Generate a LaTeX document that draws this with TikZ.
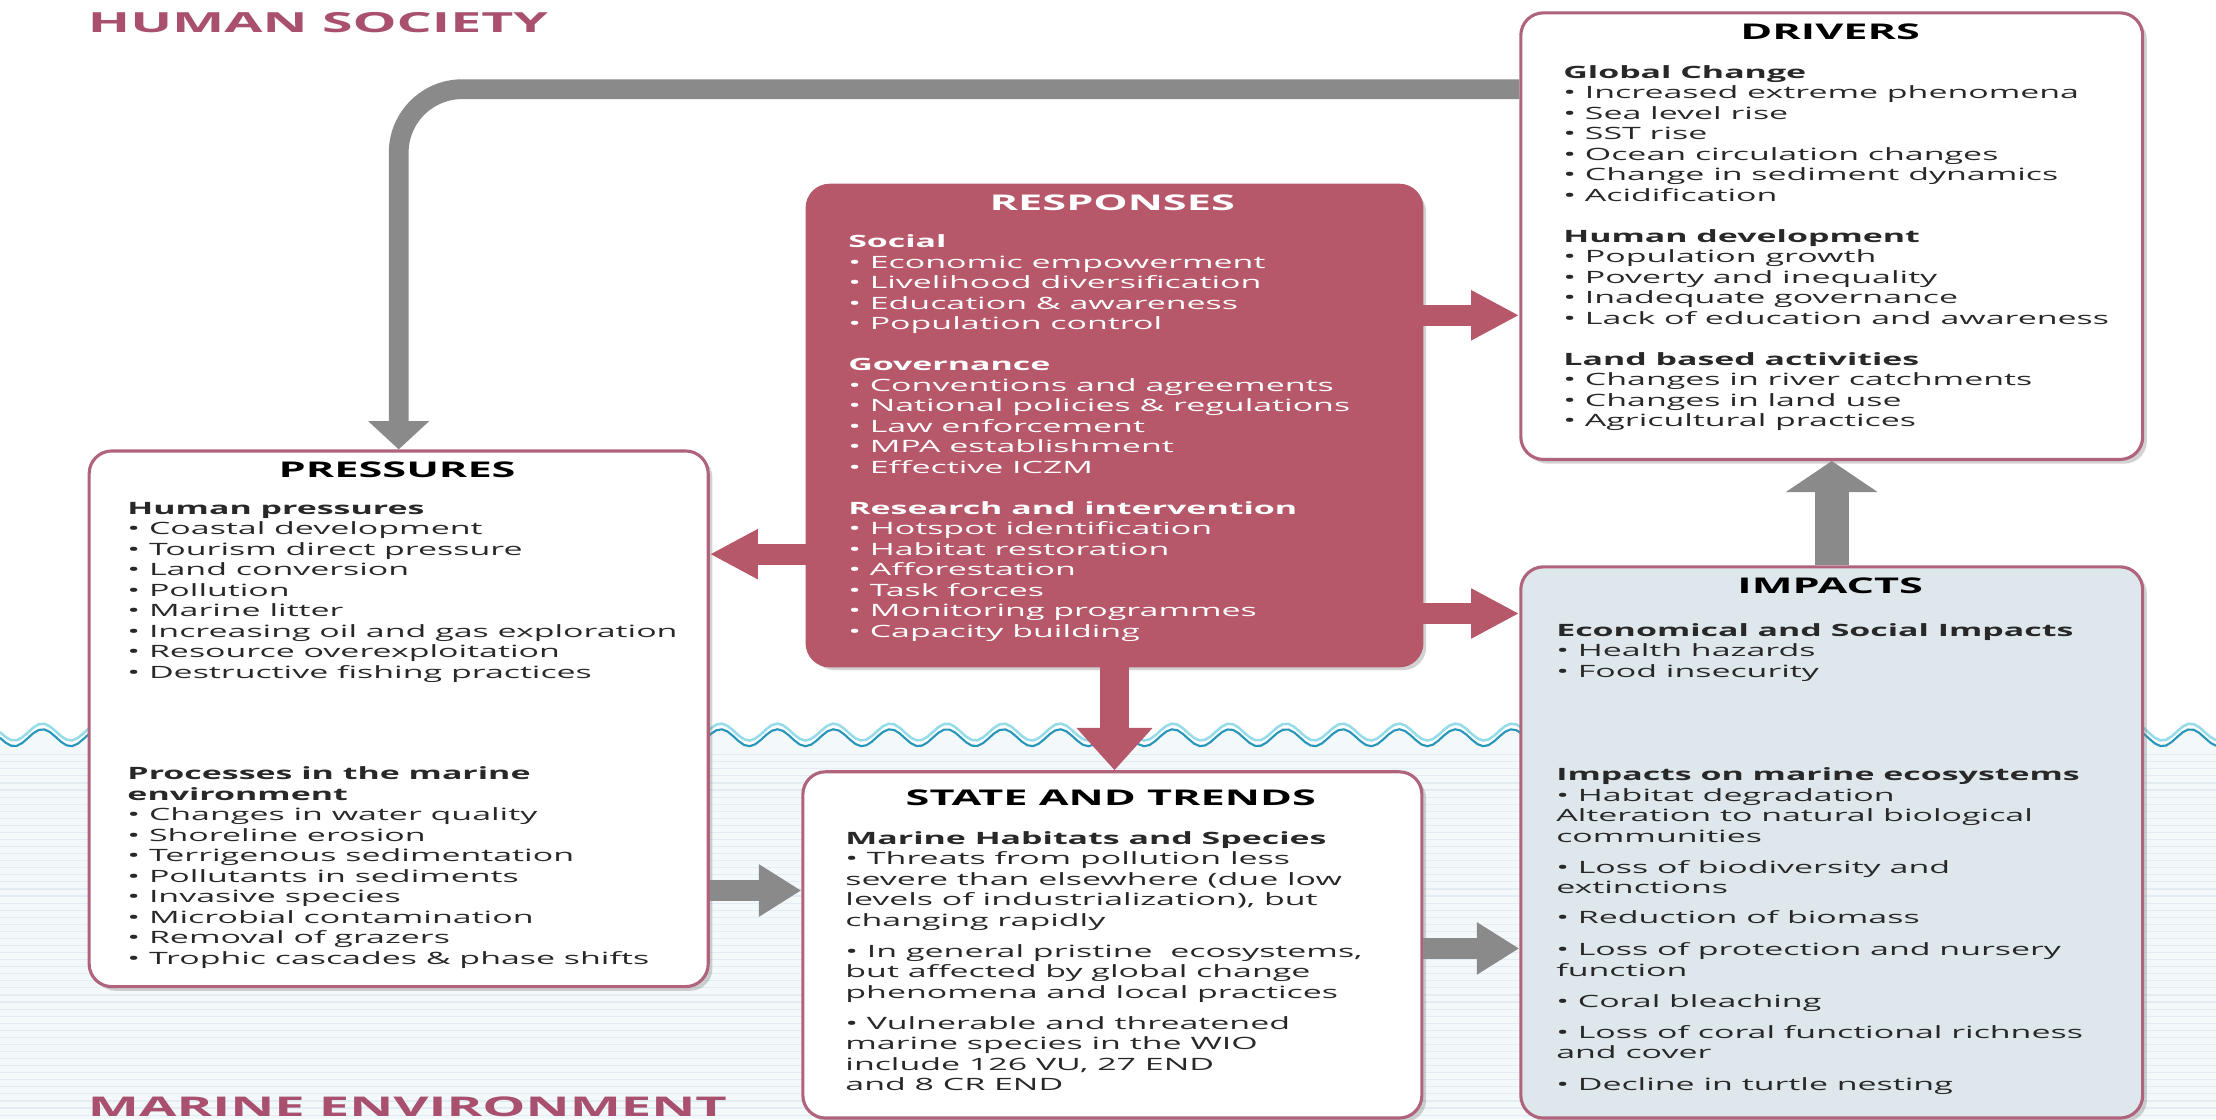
\documentclass[tikz,border=0pt]{standalone}
\usepackage{fontspec}
\setmainfont{Open Sans}[FakeStretch=2.0]
\usetikzlibrary{arrows.meta,shadows}
\definecolor{maroonf}{RGB}{182,88,106}
\definecolor{bordm}{RGB}{176,100,124}
\definecolor{labm}{RGB}{168,80,110}
\definecolor{grayarr}{RGB}{138,138,138}
\definecolor{impfill}{RGB}{222,231,236}
\definecolor{txt}{RGB}{40,40,40}
\definecolor{seabg}{RGB}{243,248,250}
\definecolor{seastripe}{RGB}{226,236,242}
\definecolor{wavea}{RGB}{150,220,232}
\definecolor{waveb}{RGB}{40,150,185}
\newcommand\sechd[1]{\textbf{#1}}
\begin{document}
\begin{tikzpicture}[x=1pt,y=-1pt,
  panel/.style={draw=bordm, line width=2.2pt, rounded corners=16pt, anchor=north west, inner sep=0pt,
    drop shadow={shadow xshift=3pt, shadow yshift=-3pt, opacity=0.35}},
  whitepanel/.style={panel, fill=white},
  bodytxt/.style={anchor=north west, inner sep=0pt, align=left, text=txt,
    font=\fontsize{12}{14.5}\selectfont},
  ttl/.style={anchor=base, inner sep=0pt, text=black, font=\fontsize{15.3}{18}\selectfont\bfseries},
  biglab/.style={anchor=base west, inner sep=0pt, text=labm, font=\fontsize{19.6}{24}\selectfont\bfseries},
  marr/.style={draw=maroonf, line width=15pt, -{Triangle[length=34pt, width=33pt]}},
  garr/.style={draw=grayarr, line width=15pt, -{Triangle[length=30pt, width=35pt]}},
]
\useasboundingbox (0,0) rectangle (1568,792);
\fill[white] (0,0) rectangle (1568,792);
% sea background
\fill[seabg] plot[domain=0:1568, samples=400] (\x,{522+6*sin(9*\x)}) -- (1568,792) -- (0,792) -- cycle;
\foreach \yy in {534,539,...,792} \draw[seastripe, line width=0.8pt] (0,\yy) -- (1568,\yy);
\draw[wavea, line width=1.8pt] plot[domain=0:1568, samples=400] (\x,{518+6*sin(9*\x)});
\draw[waveb, line width=1.5pt] plot[domain=0:1568, samples=400] (\x,{522+6*sin(9*\x)});

% labels
\node[biglab] (hs) at (62,23) {HUMAN SOCIETY};
\node[biglab, font=\fontsize{19.2}{24}\selectfont\bfseries] (me) at (62,790) {MARINE ENVIRONMENT};

% boxes
\node[whitepanel, minimum width=440pt, minimum height=316pt] (drv) at (1075,8) {};
\node[panel, fill=maroonf, draw=maroonf, minimum width=435pt, minimum height=340pt] (resp) at (570,130) {};
\node[whitepanel, minimum width=438pt, minimum height=379pt] (pres) at (62,318) {};
\node[whitepanel, minimum width=438pt, minimum height=245pt] (state) at (567,545) {};
\node[panel, fill=impfill, minimum width=440pt, minimum height=390pt] (imp) at (1075,400) {};

% titles
\node[ttl] (drvttl) at (1295,28) {DRIVERS};
\node[ttl, text=white] (respttl) at (787,149) {RESPONSES};
\node[ttl] (presttl) at (281,338) {PRESSURES};
\node[ttl] (statettl) at (786,570) {STATE AND TRENDS};
\node[ttl] (impttl) at (1295,420) {IMPACTS};

% contents
\node[bodytxt] (drvtxt) at (1106,46) {%
\sechd{Global Change}\\
• Increased extreme phenomena\\
• Sea level rise\\
• SST rise\\
• Ocean circulation changes\\
• Change in sediment dynamics\\
• Acidification\\[14.5pt]
\sechd{Human development}\\
• Population growth\\
• Poverty and inequality\\
• Inadequate governance\\
• Lack of education and awareness\\[14.5pt]
\sechd{Land based activities}\\
• Changes in river catchments\\
• Changes in land use\\
• Agricultural practices};

\node[bodytxt, text=white] (resptxt) at (600,166) {%
\sechd{Social}\\
• Economic empowerment\\
• Livelihood diversification\\
• Education \& awareness\\
• Population control\\[14.5pt]
\sechd{Governance}\\
• Conventions and agreements\\
• National policies \& regulations\\
• Law enforcement\\
• MPA establishment\\
• Effective ICZM\\[14.5pt]
\sechd{Research and intervention}\\
• Hotspot identification\\
• Habitat restoration\\
• Afforestation\\
• Task forces\\
• Monitoring programmes\\
• Capacity building};

\node[bodytxt] (prestxt) at (90,355) {%
\sechd{Human pressures}\\
• Coastal development\\
• Tourism direct pressure\\
• Land conversion\\
• Pollution\\
• Marine litter\\
• Increasing oil and gas exploration\\
• Resource overexploitation\\
• Destructive fishing practices\\[57.5pt]
\sechd{Processes in the marine}\\
\sechd{environment}\\
• Changes in water quality\\
• Shoreline erosion\\
• Terrigenous sedimentation\\
• Pollutants in sediments\\
• Invasive species\\
• Microbial contamination\\
• Removal of grazers\\
• Trophic cascades \& phase shifts};

\node[bodytxt] (statetxt) at (598,588) {%
\sechd{Marine Habitats and Species}\\
• Threats from pollution less\\
severe than elsewhere (due low\\
levels of industrialization), but\\
changing rapidly\\[7.5pt]
• In general pristine\ \ ecosystems,\\
but affected by global change\\
phenomena and local practices\\[7.5pt]
• Vulnerable and threatened\\
marine species in the WIO\\
include 126 VU, 27 END\\
and 8 CR END};

\node[bodytxt] (imptxt) at (1101,441) {%
\sechd{Economical and Social Impacts}\\
• Health hazards\\
• Food insecurity\\[58.5pt]
\sechd{Impacts on marine ecosystems}\\
• Habitat degradation\\
Alteration to natural biological\\
communities\\[7.5pt]
• Loss of biodiversity and\\
extinctions\\[6.5pt]
• Reduction of biomass\\[8.5pt]
• Loss of protection and nursery\\
function\\[7.5pt]
• Coral bleaching\\[7.5pt]
• Loss of coral functional richness\\
and cover\\[7.5pt]
• Decline in turtle nesting};

% connectors
\draw[grayarr, line width=14pt, rounded corners=45pt, -{Triangle[length=20pt, width=42pt]}]
  ([yshift=104pt]drv.west) -| (pres.north);
\draw[marr] ([yshift=78pt]resp.east) coordinate (ra) -- (ra -| drv.west);
\draw[marr] ([yshift=-133pt]resp.east) coordinate (rb) -- (rb -| imp.west);
\draw[marr] ([yshift=-91pt]resp.west) coordinate (rc) -- (rc -| pres.east);
\draw[maroonf, line width=20pt, -{Triangle[length=30pt, width=52pt]}] (resp.south) -- (resp.south |- state.north);
\draw[garr] ([yshift=-121.5pt]pres.east) coordinate (pa) -- (pa -| state.west);
\draw[garr] ([yshift=-2.5pt]state.east) coordinate (sa) -- (sa -| imp.west);
\draw[grayarr, line width=24pt, -{Triangle[length=22pt, width=64pt]}] (imp.north) -- (drv.south);
\end{tikzpicture}
\end{document}
